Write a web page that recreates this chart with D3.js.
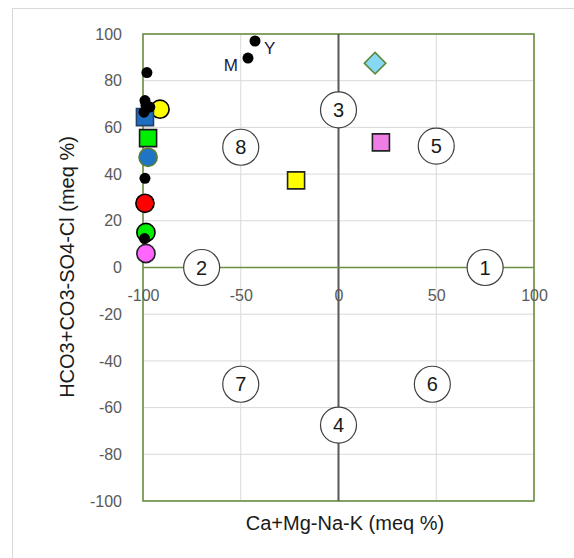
<!DOCTYPE html>
<html><head><meta charset="utf-8">
<script src="https://cdn.jsdelivr.net/npm/d3@7"></script>
<style>body{margin:0;background:#fff}svg{display:block;font-family:"Liberation Sans",Arial,sans-serif}</style>
</head><body>
<svg id="c" width="574" height="558"></svg>
<script>
// ---- data ----
const xTicks = [-100, -50, 0, 50, 100];
const yTicks = [100, 80, 60, 40, 20, 0, -20, -40, -60, -80, -100];
const zoneLabels = ["1","2","3","4","5","6","7","8"];
const zoneX = [75, -70, 0, 0, 50, 48, -50, -50];
const zoneY = [0, 0, 67.5, -67.5, 52, -50, -50, 51.5];
// small black sample points
const dotX = [-42.7, -46.3, -98, -99, -98.5, -96.5, -99.5, -99, -99.2];
const dotY = [97, 89.7, 83.5, 71.5, 69.5, 68.7, 66.5, 38.2, 12.4];
const dotNames = ["Y", "M", "", "", "", "", "", "", ""];
// coloured samples
const sampleX = [-91.3, -99, -97.4, -97.4, -99, -98.5, -98.5, 18.7, 21.7, -21.7];
const sampleY = [67.8, 64.4, 55.4, 47.2, 27.5, 15, 6, 87.5, 53.6, 37.3];
const sampleShape = ["circle","square","square","circle","circle","circle","circle","diamond","square","square"];
const sampleFill = ["#ffff00","#1f6fc0","#00ee00","#1f74c4","#ff0000","#00ee00","#ff66ff","#88d8f5","#ee7ee6","#ffff00"];
const sampleStroke = ["#000","#24406a","#1a1a1a","#5b7f35","#000","#000","#222","#5b8a3a","#222","#222"];
const xTitle = "Ca+Mg-Na-K (meq %)";
const yTitle = "HCO3+CO3-SO4-Cl (meq %)";

const svg = d3.select("#c");
const x = d3.scaleLinear().domain([-100, 100]).range([143, 534]);
const y = d3.scaleLinear().domain([-100, 100]).range([501, 34]);

// outer chart frame
svg.append("rect").attr("x", 12.5).attr("y", 8.5).attr("width", 620).attr("height", 620)
  .attr("fill", "#fff").attr("stroke", "#d9d9d9");

// gridlines
const g = svg.append("g");
g.selectAll(".gx").data(xTicks).join("line")
  .attr("x1", d => x(d)).attr("x2", d => x(d)).attr("y1", y(100)).attr("y2", y(-100))
  .attr("stroke", "#d9d9d9").attr("stroke-width", 1);
g.selectAll(".gy").data(yTicks).join("line")
  .attr("y1", d => y(d)).attr("y2", d => y(d)).attr("x1", x(-100)).attr("x2", x(100))
  .attr("stroke", "#d9d9d9").attr("stroke-width", 1);

// plot border
const green = "#6b8f45";
svg.append("rect").attr("x", x(-100)).attr("y", y(100))
  .attr("width", x(100) - x(-100)).attr("height", y(-100) - y(100))
  .attr("fill", "none").attr("stroke", green).attr("stroke-width", 1.6);

// vertical zero line
svg.append("line").attr("x1", x(0)).attr("x2", x(0)).attr("y1", y(100)).attr("y2", y(-100))
  .attr("stroke", "#595959").attr("stroke-width", 2);
// horizontal axis at y=0
svg.append("line").attr("x1", x(-100)).attr("x2", x(100)).attr("y1", y(0)).attr("y2", y(0))
  .attr("stroke", green).attr("stroke-width", 1.6);

// axes labels
const fmt = d => String(d);
const xa = svg.append("g").attr("transform", `translate(0,${y(0)})`)
  .call(d3.axisBottom(x).tickValues(xTicks).tickSize(0).tickPadding(22).tickFormat(fmt));
xa.select(".domain").remove();
xa.selectAll("text").attr("font-size", 16).attr("fill", "#595959").attr("font-family", "Liberation Sans, Arial, sans-serif");

const ya = svg.append("g").attr("transform", `translate(${x(-100)},0)`)
  .call(d3.axisLeft(y).tickValues(yTicks).tickSize(0).tickPadding(21).tickFormat(fmt));
ya.select(".domain").remove();
ya.selectAll("text").attr("font-size", 16).attr("fill", "#595959").attr("font-family", "Liberation Sans, Arial, sans-serif");

// zone circles
const zones = svg.append("g").selectAll("g").data(zoneLabels).join("g")
  .attr("transform", (d, i) => `translate(${x(zoneX[i])},${y(zoneY[i])})`);
zones.append("circle").attr("r", 18).attr("fill", "#fff").attr("stroke", "#404040").attr("stroke-width", 1.2);
zones.append("text").text(d => d).attr("text-anchor", "middle").attr("dy", "0.36em")
  .attr("font-size", 20).attr("fill", "#1a1a1a");

// coloured samples
const sym = {circle: d3.symbolCircle, square: d3.symbolSquare, diamond: d3.symbolSquare};
const size = {circle: 260, square: 290, diamond: 230};
svg.append("g").selectAll("path").data(sampleX).join("path")
  .attr("transform", (d, i) => `translate(${x(d)},${y(sampleY[i])})` + (sampleShape[i] === "diamond" ? " rotate(45)" : ""))
  .attr("d", (d, i) => d3.symbol(sym[sampleShape[i]], size[sampleShape[i]])())
  .attr("fill", (d, i) => sampleFill[i]).attr("stroke", (d, i) => sampleStroke[i]).attr("stroke-width", 1.6);

// black dots
svg.append("g").selectAll("circle").data(dotX).join("circle")
  .attr("cx", d => x(d)).attr("cy", (d, i) => y(dotY[i])).attr("r", 5.5).attr("fill", "#000");

// dot labels
const lab = svg.append("g");
lab.append("text").text(dotNames[0]).attr("x", x(dotX[0]) + 9).attr("y", y(dotY[0]) + 13)
  .attr("font-size", 17).attr("fill", "#1a1a40");
lab.append("text").text(dotNames[1]).attr("x", x(dotX[1]) - 10).attr("y", y(dotY[1]) + 13)
  .attr("text-anchor", "end").attr("font-size", 17).attr("fill", "#1a1a40");

// titles
svg.append("text").text(xTitle).attr("x", 345).attr("y", 530).attr("text-anchor", "middle")
  .attr("font-size", 20).attr("fill", "#1a1a1a");
svg.append("text").text(yTitle).attr("transform", "translate(74,267) rotate(-90)")
  .attr("text-anchor", "middle").attr("font-size", 20).attr("fill", "#1a1a1a");
</script>
</body></html>
